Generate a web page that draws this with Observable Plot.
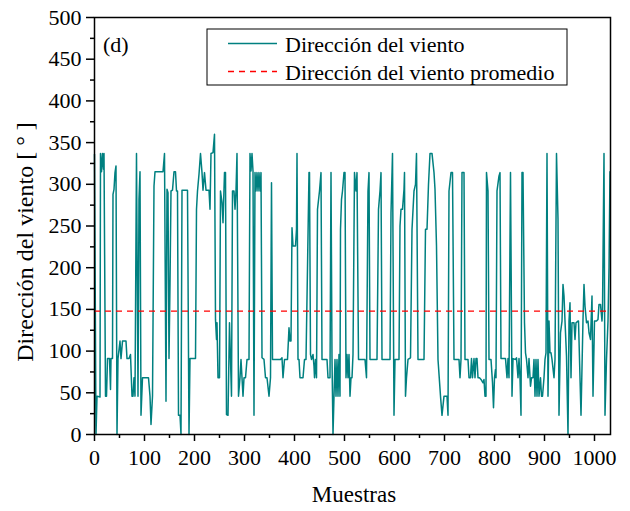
<!DOCTYPE html>
<html><head><meta charset="utf-8">
<script src="https://cdn.jsdelivr.net/npm/d3@7"></script>
<script src="https://cdn.jsdelivr.net/npm/@observablehq/plot@0.6"></script>
<style>body{margin:0;background:#fff} svg{display:block}</style>
</head><body><div id="chart"></div>
<script>
// Sample index (Muestras) of each vertex
const muestras = [
0,3,5,11,12,14,16,18,19,22,24,26,30,32,33,36,37,39,41,43,45,47,51,53,56,63,65,69,72,75,77,79,81,84,87,89,91,93,96,108,111,113,116,119,121,137,140,143,145,147,149,151,153,156,159,162,164,166,168,171,173,175,186,189,191,202,204,206,209,212,215,217,220,223,229,231,233,237,240,
242,244,245,247,250,252,255,257,260,262,264,267,270,272,274,276,279,281,283,285,288,291,293,295,297,299,302,305,309,311,313,315,317,319,321,323,325,327,329,331,333,335,339,342,345,349,352,354,356,372,375,377,380,386,389,391,393,395,397,402,404,405,407,409,411,417,420,423,426,429,430,432,434,437,439,440,442,444,446,450,453,455,465,467,471,473,475,477,479,481,483,485,487,489,491,
492,494,496,499,501,503,505,507,509,511,513,515,517,520,523,525,528,541,544,547,549,551,565,568,571,573,575,589,591,593,596,599,601,609,611,613,616,619,620,622,624,627,632,635,639,642,644,647,659,662,665,668,671,675,679,681,684,687,692,695,699,702,705,707,709,713,716,719,729,731,
733,735,739,741,747,749,752,754,756,759,761,763,765,767,770,773,777,779,781,783,784,787,789,793,796,798,800,802,803,805,809,811,813,822,825,827,829,832,835,837,842,844,847,849,851,853,855,857,860,862,864,867,869,872,874,877,879,881,883,885,887,889,892,894,896,899,901,903,905,907,909,911,913,915,919,921,924,927,929,932,935,937,939,941,944,947,949,951,953,955,959,961,963,967,
968,971,973,977,979,981,984,987,989,992,995,997,1000,1004,1007,1009,1012,1015,1016,1019,1021,1024,1027,1029,1031
];
// Wind direction [°] at each vertex
const direccion = [
336,0,46,45,337,315,337,318,337,46,46,91,91,54,91,91,288,294,314,322,0,91,112,91,112,112,91,91,96,46,46,68,46,337,46,282,315,23,68,68,46,12,46,298,315,315,337,40,294,290,91,180,292,293,315,315,292,292,23,23,0,293,293,0,91,91,270,292,312,337,314,293,314,293,293,270,337,338,360,
138,114,134,68,68,292,278,254,314,314,24,23,134,90,46,292,292,270,292,337,46,68,90,68,46,68,68,90,90,337,316,337,316,23,314,292,314,292,314,292,314,92,90,68,68,46,68,302,90,90,92,68,90,90,128,112,112,248,226,226,246,337,90,90,68,68,90,90,200,314,314,96,90,96,82,68,90,68,270,292,314,90,90,68,68,314,90,0,46,90,46,90,46,96,46,
246,282,292,314,314,68,96,68,96,46,68,68,96,314,292,314,90,90,68,292,314,90,90,270,292,314,90,90,90,266,337,23,90,90,250,270,270,294,314,46,68,90,92,246,292,300,337,90,90,246,246,300,337,337,314,294,226,90,46,23,46,46,46,23,292,314,314,90,90,68,
90,314,314,90,90,68,68,91,68,91,68,91,91,68,68,66,62,66,46,46,314,292,90,90,62,32,68,78,68,292,310,314,91,91,68,91,68,314,46,91,90,92,68,91,68,23,314,314,134,98,90,68,91,58,68,68,90,46,90,46,90,46,68,46,46,68,90,98,337,46,136,98,98,90,68,90,337,258,23,122,136,180,166,136,94,0,136,158,68,134,134,114,134,136,
136,68,23,138,180,154,134,136,122,114,166,46,136,136,138,156,156,136,148,337,23,90,136,200,315
];
const promedio = 148;
const xMajor = [0,100,200,300,400,500,600,700,800,900,1000];
const xMinor = [50,150,250,350,450,550,650,750,850,950];
const yMajor = [0,50,100,150,200,250,300,350,400,450,500];
const yMinor = [25,75,125,175,225,275,325,375,425,475];

const data = muestras.map((m, i) => ({m, d: direccion[i]}));
const FONT = "'Liberation Serif', 'Times New Roman', serif";

const chart = Plot.plot({
  width: 630, height: 511,
  marginLeft: 94, marginRight: 20, marginTop: 17, marginBottom: 77,
  style: {fontFamily: FONT, fontSize: "22px", color: "black", background: "white"},
  x: {domain: [0, 1032]},
  y: {domain: [0, 500]},
  marks: [
    Plot.line(data, {x: "m", y: "d", stroke: "#008080", strokeWidth: 1.5}),
    Plot.ruleY([promedio], {stroke: "#ff0000", strokeWidth: 1.3, strokeDasharray: "6,5"}),
    Plot.axisX({ticks: xMinor, tickSize: 4, tickFormat: () => "", label: null, strokeWidth: 1.5}),
    Plot.axisX({ticks: xMajor, tickSize: 7, tickPadding: 8, tickFormat: d => String(d), label: null, strokeWidth: 1.5, fontSize: 22}),
    Plot.axisY({ticks: yMinor, tickSize: 4, tickFormat: () => "", label: null, strokeWidth: 1.5}),
    Plot.axisY({ticks: yMajor, tickSize: 8, tickPadding: 5, tickFormat: d => String(d), label: null, strokeWidth: 1.5, fontSize: 22}),
    Plot.frame({stroke: "black", strokeWidth: 1.5})
  ]
});

const svg = d3.select(chart);
function addText(parent, x, y, txt, size, anchor, transform) {
  const t = parent.append("text")
    .attr("font-family", FONT).attr("font-size", size).attr("fill", "black")
    .attr("text-anchor", anchor).text(txt);
  if (transform) t.attr("transform", transform); else t.attr("x", x).attr("y", y);
  return t;
}
// axis titles
addText(svg, 0, 0, "Dirección del viento [ ° ]", 24, "middle", "translate(33,242) rotate(-90)");
addText(svg, 354, 502, "Muestras", 23, "middle");
// panel tag
addText(svg, 103, 52, "(d)", 22, "start");
// legend
const lg = svg.append("g");
lg.append("rect").attr("x", 207).attr("y", 29).attr("width", 360).attr("height", 56)
  .attr("fill", "white").attr("stroke", "black").attr("stroke-width", 1);
lg.append("line").attr("x1", 228).attr("x2", 277).attr("y1", 43.5).attr("y2", 43.5)
  .attr("stroke", "#008080").attr("stroke-width", 1.5);
addText(lg, 285, 52, "Dirección del viento", 22, "start");
lg.append("line").attr("x1", 228).attr("x2", 277).attr("y1", 71.5).attr("y2", 71.5)
  .attr("stroke", "#ff0000").attr("stroke-width", 1.3).attr("stroke-dasharray", "6,5");
addText(lg, 285, 80, "Dirección del viento promedio", 22, "start");

svg.selectAll("text").attr("font-family", FONT);

document.getElementById("chart").appendChild(chart);
</script>
</body></html>
